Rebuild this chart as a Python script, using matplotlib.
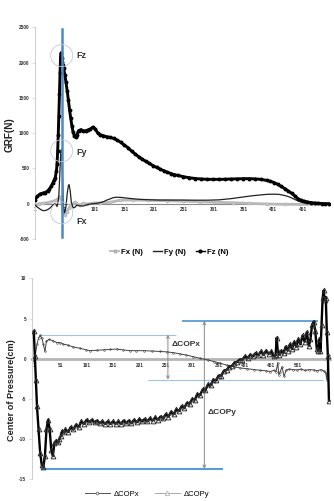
import matplotlib
matplotlib.use('Agg')
import matplotlib.pyplot as plt
from matplotlib.lines import Line2D
import numpy as np

plt.rcParams['font.family'] = ['Liberation Sans', 'DejaVu Sans']

# ---------------- top chart data (GRF) ----------------
fz_idx = [1, 5, 9, 14, 18, 22, 25, 28, 31, 33, 35, 37, 38, 39, 40, 41, 42, 43, 44, 45,
          46, 47, 48, 49, 51, 53, 55, 57, 59, 61, 63, 65, 67, 69, 71, 74, 78, 82, 86, 90,
          94, 98, 102, 106, 110, 115, 121, 127, 133, 139, 145, 151, 157, 163, 169, 175, 181, 187, 193, 199,
          205, 211, 217, 223, 229, 235, 241, 250, 260, 270, 280, 290, 300, 310, 320, 330, 340, 350, 360, 370,
          380, 390, 396, 402, 408, 414, 420, 426, 432, 437, 442, 447, 452, 458, 464, 470, 476, 482, 488, 494]
fz_val = [55, 105, 135, 150, 158, 180, 205, 245, 295, 330, 370, 470, 560, 740, 980, 1250, 1550, 1850, 2100, 2140,
          2060, 2010, 1960, 1920, 1830, 1720, 1600, 1470, 1330, 1210, 1100, 1010, 965, 950, 975, 1035, 1050, 1030, 1035, 1045,
          1060, 1085, 1060, 1005, 980, 965, 950, 940, 925, 900, 870, 830, 795, 745, 705, 665, 630, 600, 570, 540,
          515, 490, 468, 446, 428, 412, 400, 383, 368, 357, 350, 346, 345, 345, 347, 350, 352, 355, 355, 352,
          345, 330, 318, 300, 275, 245, 215, 180, 145, 110, 72, 50, 36, 25, 16, 10, 6, 3, 1, 0]

fy_idx = [1, 6, 11, 15, 19, 23, 27, 31, 35, 38, 40, 41, 42, 43, 44, 45, 46, 47, 48, 49,
          50, 51, 53, 55, 57, 58, 60, 62, 65, 68, 71, 76, 82, 88, 93, 98, 104, 110, 116, 121,
          126, 132, 138, 144, 150, 155, 165, 177, 190, 210, 230, 250, 270, 290, 310, 330, 350, 365, 380, 392,
          401, 410, 418, 425, 431, 437, 443, 449, 455, 462, 470, 480, 494]
fy_val = [-18, -55, -85, -99, -95, -80, -55, -20, 5, -40, 40, 120, 300, 500, 680, 765, 650, 420, 150, -60,
          -130, -120, -40, 140, 255, 270, 190, 20, -60, -50, -20, -30, -33, -15, -5, 0, 5, 15, 29, 50,
          65, 85, 92, 90, 85, 80, 70, 62, 57, 52, 52, 52, 50, 50, 55, 72, 95, 112, 125, 134,
          135, 133, 120, 105, 85, 60, 38, 20, 8, 2, 0, -2, -3]

fx_idx = [1, 8, 15, 26, 37, 43, 46, 48, 51, 54, 58, 62, 68, 72, 76, 82, 88, 100, 110, 127,
          144, 165, 190, 222, 250, 278, 305, 333, 360, 390, 420, 446, 470, 493]
fx_val = [-18, 0, 5, 22, 52, 99, 20, -113, -160, -113, -60, -20, 22, -10, -18, 5, -5, 10, 10, 20,
          50, 52, 48, 43, 35, 28, 20, 14, 5, -4, -8, -9, -8, -5]

top_xticks = [1, 51, 101, 151, 201, 251, 301, 351, 401, 451]
top_yticks = [-500, 0, 500, 1000, 1500, 2000, 2500]
top_series = ['Fx (N)', 'Fy (N)', 'Fz (N)']

# ---------------- bottom chart data (COP) ----------------
copx_idx = [1, 4, 7, 10, 13, 16, 19, 22, 25, 30, 38, 45, 51, 57, 65, 76, 89, 100, 108, 120,
            133, 145, 158, 170, 183, 195, 210, 225, 240, 253, 265, 278, 290, 303, 316, 330, 342, 354, 366, 380,
            392, 405, 418, 430, 440, 449, 455, 460, 463, 465, 468, 471, 475, 479, 485, 492, 500, 507, 515, 523,
            531, 538, 545, 550, 554, 556, 558, 560]
copx_val = [-0.3, 0.5, 1.8, 2.6, 2.9, 2.6, 1.8, 0.9, 2.2, 2.4, 2.2, 2.0, 2.0, 1.8, 1.7, 1.45, 1.3, 1.1, 1.0, 1.05,
            1.1, 1.15, 1.2, 1.1, 1.0, 1.0, 1.0, 0.95, 0.9, 0.85, 0.75, 0.6, 0.45, 0.25, 0.05, -0.15, -0.35, -0.55, -0.8, -1.0,
            -1.15, -1.25, -1.35, -1.45, -1.5, -1.6, -1.45, -1.6, -0.5, -2.0, -1.6, -1.0, -2.2, -1.4, -1.3, -1.35, -1.4, -1.3, -1.45, -1.35,
            -1.4, -1.5, -1.35, -1.5, -1.8, -2.6, 0.3, 0.5]

copy_idx = [1, 3, 5, 7, 10, 13, 16, 19, 22, 25, 28, 31, 34, 37, 40, 43, 46, 49, 52, 55, 58,
            61, 66, 71, 76, 81, 86, 91, 96, 101, 106, 111, 116, 121, 126, 131, 136, 141, 146, 151, 156,
            161, 166, 171, 176, 181, 186, 191, 196, 201, 206, 211, 216, 221, 226, 231, 236, 241, 246, 251, 256,
            261, 266, 271, 276, 281, 286, 291, 296, 301, 306, 311, 316, 321, 326, 331, 336, 341, 346, 351, 356,
            361, 366, 371, 376, 381, 386, 391, 396, 401, 406, 411, 416, 421, 426, 431, 436, 441, 446,
            451, 455, 459, 461, 463, 466, 470, 474, 478, 482, 486, 490, 494, 498, 502, 506, 510, 514, 518, 522,
            525, 528, 531, 534, 537, 540, 542, 544, 546, 548, 550, 552, 554, 556, 558, 560]
copy_val = [3.4, 0.3, -2.6, -5.9, -8.8, -11.7, -13.2, -13.5, -12.1, -8.8, -7.6, -8.8, -11.3, -12.1, -10.5, -10.2, -10.4, -10.0, -9.6, -9.0, -9.1,
            -8.8, -9.1, -8.5, -8.8, -8.2, -8.5, -7.8, -8.1, -7.6, -7.9, -7.6, -7.9, -7.7, -8.0, -7.8, -8.1, -7.8, -8.1, -7.8, -8.1,
            -7.8, -8.1, -7.7, -8.0, -7.7, -8.0, -7.6, -7.9, -7.5, -7.8, -7.5, -7.8, -7.4, -7.7, -7.3, -7.6, -7.2, -7.4, -6.9, -7.2,
            -6.6, -6.9, -6.3, -6.5, -5.9, -6.1, -5.5, -5.6, -5.0, -5.1, -4.4, -4.5, -3.8, -3.9, -3.2, -3.3, -2.6, -2.7, -2.1, -2.1,
            -1.5, -1.4, -1.0, -0.9, -0.5, -0.4, -0.1, -0.1, 0.3, 0.1, 0.5, 0.3, 0.7, 0.4, 0.9, 0.5, 1.0, 0.6,
            0.9, 0.3, 0.4, 2.6, 1.0, 0.5, 1.0, 0.7, 1.5, 1.0, 1.8, 1.2, 2.1, 1.5, 2.4, 1.8, 2.9, 2.1, 3.3, 1.6,
            2.4, 4.2, 4.6, 3.5, 1.2, 1.0, 2.4, 0.9, 4.2, 7.5, 8.5, 7.3, 7.6, 3.3, 0.3, -5.2]

bot_xticks = [1, 51, 101, 151, 201, 251, 301, 351, 401, 451, 501]
bot_yticks = [-15, -10, -5, 0, 5, 10]
bot_series = ['\u0394COPx', '\u0394COPy']

# annotation levels (range markers)
copx_hi, copx_lo = 3.0, -2.6
copy_hi, copy_lo = 4.7, -13.7

# ---------------- figure ----------------
fig = plt.figure(figsize=(3.34, 5.01), dpi=100)
ax1 = fig.add_axes([35/334, 1-239/501, 295/334, (239-27.3)/501])
ax2 = fig.add_axes([31.7/334, 1-479.3/501, (330-31.7)/334, (479.3-278.3)/501])

tick_font = dict(fontsize=3.4, fontweight='bold', color='#333333')

# top chart
ax1.plot(fx_idx, fx_val, color='#b8b8b8', lw=2.0, marker='o', ms=2.2, mfc='#c8c8c8', mec='#b0b0b0', mew=0.4, zorder=3)
ax1.plot(fy_idx, fy_val, color='#222222', lw=0.9, zorder=4)
ax1.plot(fz_idx, fz_val, color='black', lw=2.1, marker='o', ms=1.8, zorder=5)

peak = fz_idx[int(np.argmax(fz_val))]
ax1.axvline(peak + 0.8, ymin=0.01, ymax=0.99, color='#4a8ac6', lw=1.8, zorder=6)
centers = [max(fz_val) - 40, max(fy_val) - 15, min(fx_val) + 30]
ax1.scatter([peak + 0.8] * 3, centers, s=250, facecolors='none', edgecolors='#bfcbd8', lw=0.6, zorder=7)
for name, c, dy in zip(['Fz', 'Fy', 'Fx'], centers, [0, -1, -6]):
    ax1.annotate(name, xy=(peak, c), xytext=(11, dy), textcoords='offset points',
                 ha='left', va='center', fontsize=6.5, fontweight='bold', color='#333333')

ax1.set_xlim(1, 496)
ax1.set_ylim(-500, 2500)
for s in ['top', 'right']:
    ax1.spines[s].set_visible(False)
ax1.spines['left'].set_color('#d0d0d0')
ax1.spines['left'].set_linewidth(0.8)
ax1.spines['bottom'].set_position(('data', 0))
ax1.spines['bottom'].set_color('#8a8a8a')
ax1.spines['bottom'].set_linewidth(0.8)
ax1.spines['bottom'].set_zorder(2)
ax1.set_xticks(top_xticks)
ax1.set_xticklabels([str(t) for t in top_xticks], **tick_font)
ax1.set_yticks(top_yticks)
ax1.set_yticklabels([str(t) for t in top_yticks], **tick_font)
ax1.tick_params(axis='x', length=0, pad=2.5)
ax1.tick_params(axis='y', length=2, color='#d0d0d0', width=0.5, pad=2)
ax1.patch.set_visible(False)

# bottom chart
ax2.plot(copx_idx, copx_val, color='#444444', lw=0.7, marker='o', ms=1.2, mfc='none', mec='#444444', mew=0.4, zorder=4)
ax2.plot(copy_idx, copy_val, color='black', lw=1.7, marker='^', ms=3.4, mfc='none', mec='#333333', mew=0.7, zorder=5)

ax2.hlines(copx_hi, 13, 270, color='#9dc3e6', lw=0.8, zorder=3)
ax2.hlines(copx_lo, 217, 549, color='#9dc3e6', lw=0.8, zorder=3)
ax2.hlines(copy_hi, 281, 540, color='#5b9bd5', lw=1.3, zorder=3)
ax2.hlines(copy_lo, 16, 359, color='#5b9bd5', lw=1.5, zorder=3)
arrow_kw = dict(arrowstyle='<->', color='#8a8a8a', lw=0.7, shrinkA=0, shrinkB=0, mutation_scale=5)
ax2.annotate('', xy=(255, copx_lo), xytext=(255, copx_hi), arrowprops=arrow_kw, zorder=3)
ax2.annotate('', xy=(324, copy_lo), xytext=(324, copy_hi), arrowprops=arrow_kw, zorder=3)
ax2.text(262, (copx_hi + copx_lo) / 2 + 1.6, '\u0394COPx', fontsize=6, fontweight='bold', color='#333333',
         ha='left', va='center', zorder=6)
ax2.text(330, -6.7, '\u0394COPy', fontsize=6, fontweight='bold', color='#333333',
         ha='left', va='center', zorder=6)

ax2.set_xlim(-3, 562)
ax2.set_ylim(-15, 10)
for s in ['top', 'right']:
    ax2.spines[s].set_visible(False)
ax2.spines['left'].set_color('#d0d0d0')
ax2.spines['left'].set_linewidth(0.8)
ax2.spines['bottom'].set_position(('data', 0))
ax2.spines['bottom'].set_color('#b5b5b5')
ax2.spines['bottom'].set_linewidth(2.0)
ax2.spines['bottom'].set_zorder(2)
ax2.set_xticks(bot_xticks)
ax2.set_xticklabels([str(t) for t in bot_xticks], **tick_font)
ax2.set_yticks(bot_yticks)
ax2.set_yticklabels([str(t) for t in bot_yticks], **tick_font)
ax2.tick_params(axis='x', length=0, pad=3)
ax2.tick_params(axis='y', length=2, color='#d0d0d0', width=0.5, pad=2)
ax2.patch.set_visible(False)

# axis titles
fig.text(10/334, 1-135/501, 'GRF(N)', rotation=90, ha='center', va='center',
         fontsize=7.2, fontweight='bold', color='#222222')
fig.text(12/334, 1-390/501, 'Center of Pressure(cm)', rotation=90, ha='center', va='center',
         fontsize=6.6, fontweight='bold', color='#222222')

# legends
h_top = [Line2D([], [], color='#c0c0c0', lw=1.5, marker='o', ms=2, mec='#b0b0b0'),
         Line2D([], [], color='#222222', lw=1.0),
         Line2D([], [], color='black', lw=1.0, marker='o', ms=2)]
fig.legend(h_top, top_series, loc='center', bbox_to_anchor=(0.506, 1-252/501), ncol=3, frameon=False,
           prop=dict(size=5.6, weight='bold'), handlelength=1.2, handletextpad=0.2, columnspacing=1.3)

h_bot = [Line2D([], [], color='#555555', lw=0.7, marker='o', ms=2, mfc='white', mec='#555555', mew=0.5),
         Line2D([], [], color='#aaaaaa', lw=0.7, marker='^', ms=3.2, mfc='white', mec='#aaaaaa', mew=0.5)]
fig.legend(h_bot, bot_series, loc='center', bbox_to_anchor=(0.44, 1-494/501), ncol=2, frameon=False,
           prop=dict(size=5.5), handlelength=3.3, handletextpad=0.5, columnspacing=2.0)

fig.savefig('out.png', dpi=100)
